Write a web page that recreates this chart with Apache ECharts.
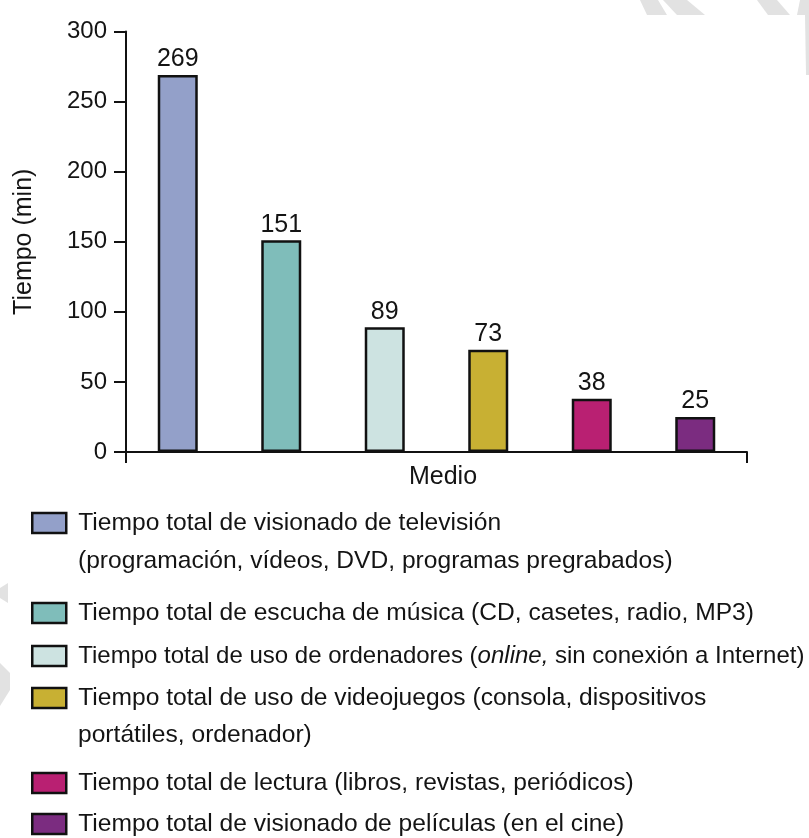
<!DOCTYPE html>
<html>
<head>
<meta charset="utf-8">
<script src="https://cdn.jsdelivr.net/npm/echarts@6/dist/echarts.min.js"></script>
<style>
html,body{margin:0;padding:0;background:#fff;}
#chart{width:809px;height:838px;}
</style>
</head>
<body>
<div id="chart"></div>
<script>
// ---- Data ----
const categories = ['Televisión', 'Música', 'Ordenadores', 'Videojuegos', 'Lectura', 'Cine'];
const seriesNames = [
  'Tiempo total de visionado de televisión',
  'Tiempo total de escucha de música (CD, casetes, radio, MP3)',
  'Tiempo total de uso de ordenadores (online, sin conexión a Internet)',
  'Tiempo total de uso de videojuegos (consola, dispositivos',
  'Tiempo total de lectura (libros, revistas, periódicos)',
  'Tiempo total de visionado de películas (en el cine)'
];
const secondLines = ['(programación, vídeos, DVD, programas pregrabados)', '', '', 'portátiles, ordenador)', '', ''];
const values = [269, 151, 89, 73, 38, 25];
const yTicks = [0, 50, 100, 150, 200, 250, 300];
const colors = ['#93a0c9', '#7fbdba', '#cde3e1', '#c8b033', '#b92072', '#7b2c80'];

// ---- Layout ----
const FONT = "'Liberation Sans', Arial, sans-serif";
const TXT = '#141414';
const legendFontSizes = [24.6, 24.6, 24, 24.6, 24.6, 24.6];
const legendCenters = [523, 613, 656, 698, 783, 824];
const secondLineCenters = [561, null, null, 735, null, null];

const chart = echarts.init(document.getElementById('chart'), null, {renderer: 'canvas'});

const series = values.map((v, i) => ({
  name: seriesNames[i],
  type: 'bar',
  xAxisIndex: 0,
  yAxisIndex: 0,
  barWidth: 40,
  barGap: '-100%',
  data: categories.map((c, j) => (j === i ? v : '-')),
  itemStyle: {color: colors[i], borderColor: '#111', borderWidth: 2.5},
  label: {
    show: true, position: 'top', distance: 3,
    fontFamily: FONT, fontSize: 25, color: TXT
  },
  emphasis: {disabled: true},
  animation: false
}));

const legends = seriesNames.map((n, i) => {
  const fs = legendFontSizes[i];
  return {
    data: [n],
    orient: 'vertical',
    left: 31,
    top: legendCenters[i] - 12.5,
    padding: 0,
    itemWidth: 34,
    itemHeight: 20,
    icon: 'rect',
    selectedMode: false,
    itemStyle: {borderColor: '#111', borderWidth: 2.5},
    formatter: function (name) {
      if (name.indexOf('(online,') >= 0) {
        const parts = name.split('online,');
        return '{n|' + parts[0] + '}{i|online,}{n|' + parts[1] + '}';
      }
      return '{n|' + name + '}';
    },
    textStyle: {
      fontFamily: FONT, fontSize: fs, color: TXT, lineHeight: 25,
      padding: [0, 0, 0, 7],
      rich: {
        n: {fontFamily: FONT, fontSize: fs, color: TXT, lineHeight: 25},
        i: {fontFamily: FONT, fontSize: fs, color: TXT, lineHeight: 25, fontStyle: 'italic'}
      }
    }
  };
});

const graphics = [];
secondLines.forEach((t, i) => {
  if (t) {
    graphics.push({
      type: 'text', x: 78, y: secondLineCenters[i], silent: true,
      style: {text: t, font: legendFontSizes[i] + 'px ' + FONT, fill: TXT, verticalAlign: 'middle', align: 'left'}
    });
  }
});
// faint watermark stripes in the background
const wm = '#e2e2e2';
[
  [[640,0],[658,0],[667,15],[647,15]],
  [[663,0],[687,0],[705,15],[677,15]],
  [[757,0],[777,0],[790,15],[768,15]],
  [[800,0],[809,0],[809,15],[797,15]],
  [[805,15],[809,15],[809,75],[806,75]],
  [[0,588],[8,583],[8,603],[0,598]],
  [[0,663],[10,673],[10,690],[0,706]]
].forEach(p => graphics.push({type: 'polygon', silent: true, z: -10, shape: {points: p}, style: {fill: wm}}));

const option = {
  backgroundColor: '#ffffff',
  animation: false,
  textStyle: {fontFamily: FONT},
  grid: {left: 126, right: 62, top: 31.5, bottom: 386},
  legend: legends,
  xAxis: [
    {
      type: 'category',
      data: categories,
      name: 'Medio',
      nameLocation: 'middle',
      nameGap: 13,
      nameTextStyle: {fontFamily: FONT, fontSize: 25, color: TXT, verticalAlign: 'top', padding: [0, 0, 0, 13]},
      axisLine: {show: true, lineStyle: {color: '#111', width: 2}},
      axisTick: {show: false},
      axisLabel: {show: false},
      splitLine: {show: false}
    },
    {
      type: 'value',
      min: 0, max: 1, interval: 1,
      position: 'bottom',
      axisLine: {show: false},
      axisTick: {show: true, length: 11, lineStyle: {color: '#111', width: 2}},
      axisLabel: {show: false},
      splitLine: {show: false}
    }
  ],
  yAxis: {
    type: 'value',
    min: yTicks[0],
    max: yTicks[yTicks.length - 1],
    interval: yTicks[1] - yTicks[0],
    name: 'Tiempo (min)',
    nameLocation: 'middle',
    nameGap: 89,
    nameTextStyle: {fontFamily: FONT, fontSize: 25, color: TXT},
    axisLine: {show: true, lineStyle: {color: '#111', width: 2}},
    axisTick: {show: true, length: 12, lineStyle: {color: '#111', width: 2}},
    axisLabel: {fontFamily: FONT, fontSize: 24, color: TXT, margin: 19},
    splitLine: {show: false}
  },
  graphic: graphics,
  series: series
};
chart.setOption(option);
</script>
</body>
</html>
